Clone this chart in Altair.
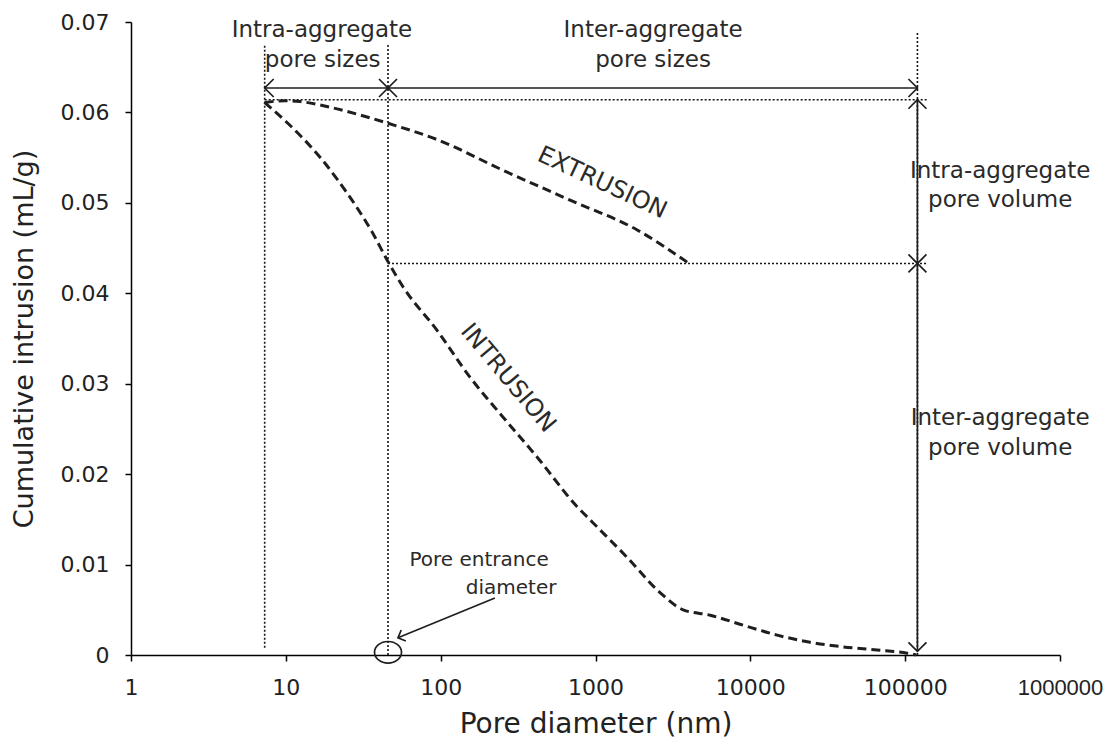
import altair as alt
import pandas as pd

# ---- data ----
intr_d = [7.3, 10.3, 13.3, 17.1, 21.7, 28, 36, 45.7, 57.2, 94.8, 155, 253, 419, 761, 966, 1600, 2610, 3680, 5500, 8980, 14900, 24300, 39700, 65900, 103000, 118000]
intr_v = [0.0611, 0.0588, 0.0569, 0.0548, 0.0525, 0.0498, 0.0468, 0.0435, 0.0407, 0.0359, 0.0307, 0.0263, 0.0219, 0.0164, 0.0146, 0.0108, 0.0069, 0.0050, 0.0044, 0.0033, 0.0022, 0.0014, 0.0009, 0.00055, 0.0002, 0.0]

ext_d = [7.3, 9.9, 12.4, 20.2, 35, 45.7, 94.8, 253, 685, 1860, 4100]
ext_v = [0.0611, 0.0613, 0.0612, 0.0605, 0.0594, 0.0588, 0.0570, 0.0536, 0.0503, 0.0470, 0.0432]

x_ticks = [1, 10, 100, 1000, 10000, 100000, 1000000]
y_ticks = [0, 0.01, 0.02, 0.03, 0.04, 0.05, 0.06, 0.07]

# reference (dotted) lines
vd_x = [7.3, 45.7, 120000]
vd_top = [0.0675, 0.0675, 0.0688]
vd_bot = [0.0008, 0.0, 0.0]
hd_y = [0.0614, 0.0433]
hd_x1 = [7.3, 45.7]
hd_x2 = [140000, 140000]

# solid arrow shafts
ar_x1 = [7.3, 45.7, 120000, 120000, 224]
ar_y1 = [0.0627, 0.0627, 0.0614, 0.0433, 0.0063]
ar_x2 = [45.7, 120000, 120000, 120000, 53]
ar_y2 = [0.0627, 0.0627, 0.0433, 0.0004, 0.0019]

# arrow heads (tip positions and direction in degrees, clockwise)
hd_tx = [7.3, 45.7, 45.7, 120000, 120000, 120000, 120000, 120000]
hd_ty = [0.0627, 0.0627, 0.0627, 0.0627, 0.0614, 0.0433, 0.0433, 0.0004]
hd_ang = [180, 0, 180, 0, 270, 90, 270, 90]
ptr_tx = [53]
ptr_ty = [0.0019]
ptr_ang = [157.6]

# annotations
lab_text = ["Intra-aggregate", "pore sizes", "Inter-aggregate", "pore sizes",
            "Intra-aggregate", "pore volume", "Inter-aggregate", "pore volume"]
lab_x = [17.1, 17.3, 2355, 2355, 411000, 411000, 411000, 411000]
lab_y = [0.0691, 0.0658, 0.0691, 0.0658, 0.0535, 0.0503, 0.0262, 0.0229]

ped_text = ["Pore entrance", "diameter"]
ped_x = [177, 285]
ped_y = [0.0105, 0.0074]

curve_text = ["EXTRUSION", "INTRUSION"]
curve_x = [1104, 272]
curve_y = [0.0522, 0.0306]
curve_ang = [25, 50]

circ_x = [45.7]
circ_y = [0.0003]

# ---- tables ----
curves = pd.concat([
    pd.DataFrame({"x": intr_d, "y": intr_v, "s": "intrusion"}),
    pd.DataFrame({"x": ext_d, "y": ext_v, "s": "extrusion"}),
])
vdot = pd.DataFrame({"x": vd_x, "x2": vd_x, "y": vd_bot, "y2": vd_top})
hdot = pd.DataFrame({"x": hd_x1, "x2": hd_x2, "y": hd_y, "y2": hd_y})
dots = pd.concat([vdot, hdot])
shafts = pd.DataFrame({"x": ar_x1, "y": ar_y1, "x2": ar_x2, "y2": ar_y2})
heads = pd.DataFrame({"x": hd_tx, "y": hd_ty, "a": hd_ang})
ptr = pd.DataFrame({"x": ptr_tx, "y": ptr_ty, "a": ptr_ang})
labs = pd.DataFrame({"x": lab_x, "y": lab_y, "t": lab_text})
peds = pd.DataFrame({"x": ped_x, "y": ped_y, "t": ped_text})
ctext = pd.DataFrame({"x": curve_x, "y": curve_y, "t": curve_text, "a": curve_ang})
circ = pd.DataFrame({"x": circ_x, "y": circ_y})

FONT = "DejaVu Sans"
INK = "#1e1e1e"
TXT = "#2a2a2a"

xs = alt.Scale(type="log", domain=[1, 1000000], nice=False)
ys = alt.Scale(domain=[0, 0.07], nice=False)

xaxis = alt.Axis(values=x_ticks, format="d", grid=False, title="Pore diameter (nm)",
                 titlePadding=12, labelPadding=16, labelFlush=False, titleFontSize=28,
                 labelFontSize=22,
                 labelFont={"condition": {"test": "datum.value >= 1000000", "value": "Liberation Sans"},
                            "value": FONT})
yaxis = alt.Axis(values=y_ticks, grid=False, title="Cumulative intrusion (mL/g)",
                 labelExpr="datum.value == 0 ? '0' : format(datum.value, '.2f')",
                 titlePadding=22, labelPadding=16, labelFlush=False, titleFontSize=27,
                 labelFontSize=22, labelFont=FONT)

X = alt.X("x:Q", scale=xs, axis=xaxis)
Y = alt.Y("y:Q", scale=ys, axis=yaxis)

line_layer = alt.Chart(curves).mark_line(
    strokeDash=[9, 5], strokeWidth=3, color=INK, interpolate="monotone", clip=False
).encode(x=X, y=Y, detail="s:N")

dot_layer = alt.Chart(dots).mark_rule(
    strokeDash=[2, 2], strokeWidth=1.6, color="#151515"
).encode(x=X, y=Y, x2="x2:Q", y2="y2:Q")

shaft_layer = alt.Chart(shafts).mark_rule(strokeWidth=1.7, color=INK).encode(
    x=X, y=Y, x2="x2:Q", y2="y2:Q")

head_layer = alt.Chart(heads).mark_point(
    shape="M -1 -1 L 0 0 L -1 1", filled=False, size=324, strokeWidth=1.7, color=INK, opacity=1
).encode(x=X, y=Y, angle=alt.Angle("a:Q", scale=None))

ptr_layer = alt.Chart(ptr).mark_point(
    shape="M -1 -1 L 0 0 L -1 1", filled=False, size=144, strokeWidth=1.7, color=INK, opacity=1
).encode(x=X, y=Y, angle=alt.Angle("a:Q", scale=None))

circ_layer = alt.Chart(circ).mark_point(
    shape="M -1 0 A 1 0.8 0 1 0 1 0 A 1 0.8 0 1 0 -1 0 Z", filled=False, size=729,
    strokeWidth=1.7, color=INK, opacity=1
).encode(x=X, y=Y)

lab_layer = alt.Chart(labs).mark_text(
    font=FONT, fontSize=23, color=TXT, align="center", baseline="middle"
).encode(x=X, y=Y, text="t:N")

ped_layer = alt.Chart(peds).mark_text(
    font=FONT, fontSize=20, color=TXT, align="center", baseline="middle"
).encode(x=X, y=Y, text="t:N")

ctext_layer = alt.Chart(ctext).mark_text(
    font=FONT, fontSize=24, color=TXT, align="center", baseline="middle"
).encode(x=X, y=Y, text="t:N", angle=alt.Angle("a:Q", scale=None))

chart = alt.layer(
    dot_layer, line_layer, shaft_layer, head_layer, ptr_layer, circ_layer,
    lab_layer, ped_layer, ctext_layer
).properties(
    width=929, height=633,
    autosize=alt.AutoSizeParams(type="none"),
    padding={"left": 123, "top": 14, "right": 43, "bottom": 86},
    background="white",
).configure_view(stroke=None).configure_axis(
    domainColor="black", domainWidth=1.5, tickColor="black", tickWidth=1.5, tickSize=6,
    labelColor="#222222",
    titleFont=FONT, titleFontWeight="normal", titleColor="#222222",
)

chart.save("out.html", embed_options={"renderer": "svg", "actions": False})
